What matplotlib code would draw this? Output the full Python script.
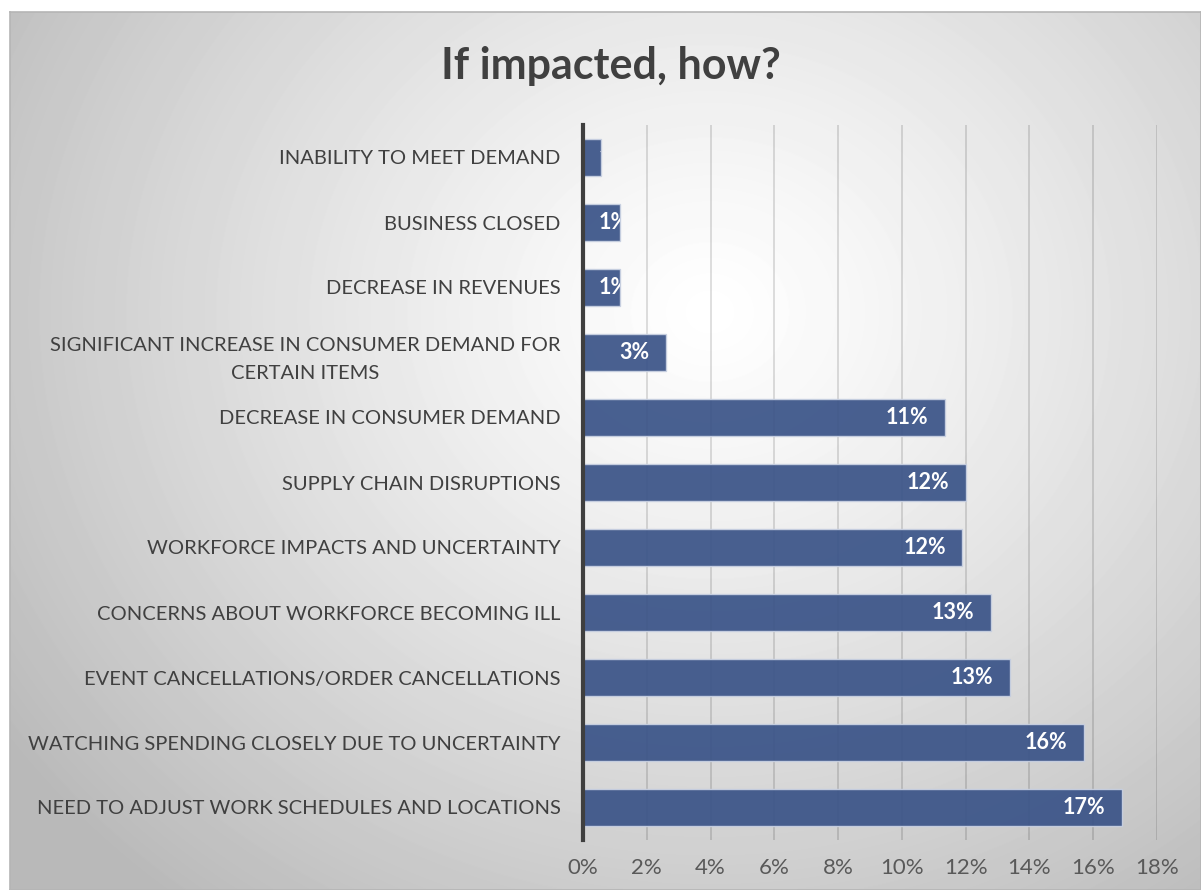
import numpy as np
import matplotlib
matplotlib.use("Agg")
import matplotlib.pyplot as plt
from matplotlib.ticker import PercentFormatter, FixedLocator

# data, top to bottom as in the chart
categories = [
    "INABILITY TO MEET DEMAND",
    "BUSINESS CLOSED",
    "DECREASE IN REVENUES",
    "SIGNIFICANT INCREASE IN CONSUMER DEMAND FOR\nCERTAIN ITEMS",
    "DECREASE IN CONSUMER DEMAND",
    "SUPPLY CHAIN DISRUPTIONS",
    "WORKFORCE IMPACTS AND UNCERTAINTY",
    "CONCERNS ABOUT WORKFORCE BECOMING ILL",
    "EVENT CANCELLATIONS/ORDER CANCELLATIONS",
    "WATCHING SPENDING CLOSELY DUE TO UNCERTAINTY",
    "NEED TO ADJUST WORK SCHEDULES AND LOCATIONS",
]
shares = [0.0056, 0.0116, 0.0116, 0.026, 0.1135, 0.120, 0.119, 0.128, 0.134, 0.157, 0.169]
xticks = [0, 0.02, 0.04, 0.06, 0.08, 0.10, 0.12, 0.14, 0.16, 0.18]

FONT = "Lato"
BAR = "#3b5488"

W, H = 1201, 890
fig = plt.figure(figsize=(W / 100, H / 100), dpi=100)
fig.patch.set_facecolor("white")

# gradient background of the chart box
bg = fig.add_axes([10 / W, 0, 1 - 10 / W, (H - 12) / H], zorder=0)
yy, xx = np.mgrid[0:H - 12, 0:W - 10]
cx, cy = 700, 300
r = np.hypot((xx - cx) / 850.0, (yy - cy) / 750.0)
shade = 1.0 - 0.27 * np.clip(r, 0, 1) ** 1.2
bg.imshow(shade, cmap="gray", vmin=0, vmax=1, aspect="auto", interpolation="bilinear")
bg.set_xticks([])
bg.set_yticks([])
for s in bg.spines.values():
    s.set_color("#b5b5b5")
    s.set_linewidth(1.2)

ax = fig.add_axes([583 / W, (H - 840) / H, 574 / W, 715 / H], zorder=1)
ax.patch.set_alpha(0)

y = np.arange(len(categories))
bars = ax.barh(y, shares, height=0.58, color=BAR, alpha=0.93,
               edgecolor="#c9d1e2", linewidth=1.0, zorder=3)
ax.set_ylim(len(categories) - 0.5, -0.5)
ax.set_xlim(0, 0.18)

ax.xaxis.set_major_locator(FixedLocator(xticks))
ax.xaxis.set_major_formatter(PercentFormatter(1.0, decimals=0))
ax.grid(axis="x", color="#000000", alpha=0.15, linewidth=1.2, zorder=1)
ax.tick_params(axis="x", length=0, pad=13, labelsize=16, labelcolor="#595959")
ax.tick_params(axis="y", length=0, pad=16, labelsize=14.5, labelcolor="#404040")
for lab in ax.get_xticklabels():
    lab.set_fontfamily(FONT)

ax.set_yticks(y)
ax.set_yticklabels(categories, fontfamily=FONT, multialignment="center", linespacing=1.8)

for side in ["top", "right", "bottom"]:
    ax.spines[side].set_visible(False)
ax.spines["left"].set_color("#3f3f3f")
ax.spines["left"].set_linewidth(3)
ax.spines["left"].set_zorder(5)

# value labels inside bar ends, clipped to the bar
for b, v in zip(bars, shares):
    yc = b.get_y() + b.get_height() / 2
    if v < 0.02:
        t = ax.annotate(f"{v:.0%}", (0, yc), xytext=(11, 0), textcoords="offset points",
                        ha="left", va="center", color="white", fontweight="bold",
                        fontsize=15.5, fontfamily=FONT, zorder=4)
    else:
        t = ax.annotate(f"{v:.0%}", (v, yc), xytext=(-12, 0), textcoords="offset points",
                        ha="right", va="center", color="white", fontweight="bold",
                        fontsize=15.5, fontfamily=FONT, zorder=4)
    t.set_clip_path(b)

fig.text(611 / W, 1 - 66 / H, "If impacted, how?", ha="center", va="center",
         fontsize=31, fontweight="bold", color="#404040", fontfamily=FONT)

fig.savefig("out.png", dpi=100)
